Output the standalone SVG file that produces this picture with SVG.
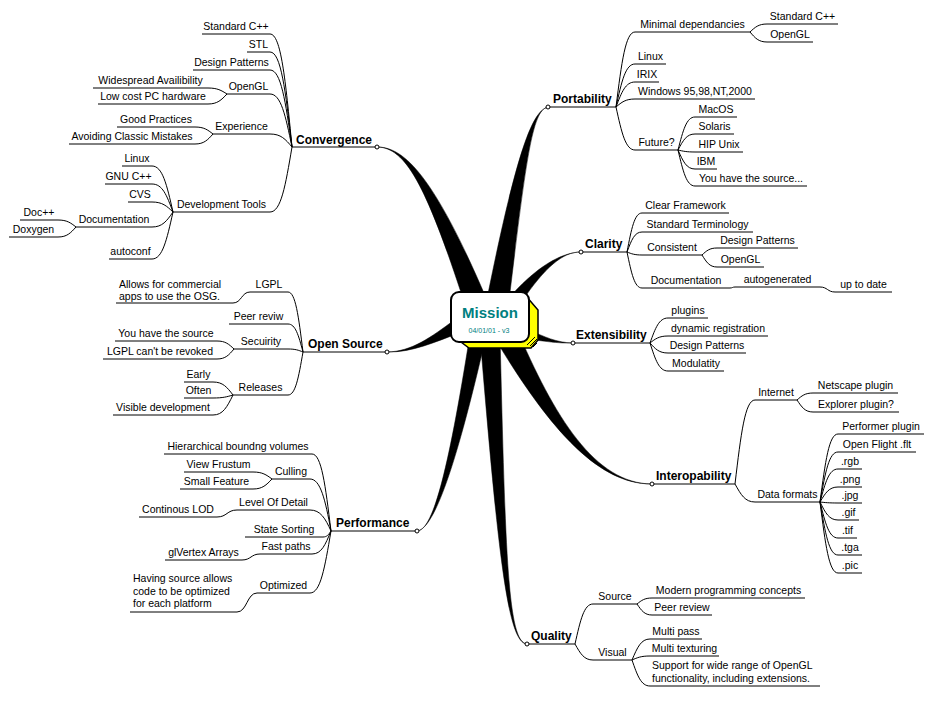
<svg xmlns="http://www.w3.org/2000/svg" width="932" height="704" viewBox="0 0 932 704">
<style>
.t{font-family:"Liberation Sans",Arial,sans-serif;font-size:10.5px;fill:#000;text-anchor:middle}
.s{font-family:"Liberation Sans",Arial,sans-serif;font-size:10.5px;fill:#000}
.m{font-family:"Liberation Sans",Arial,sans-serif;font-size:12px;font-weight:bold;fill:#000}
.u{fill:none;stroke:#000;stroke-width:1}
.c{fill:none;stroke:#000;stroke-width:1}
.w{fill:#000;stroke:#000;stroke-width:0.5}
.dot{fill:#fff;stroke:#000;stroke-width:1}
</style>
<rect width="932" height="704" fill="#fff"/>
<g id="connectors">
<!-- main wedges -->
<path class="w" d="M378,147 C405,147.5 434.7,178.2 485.3,296.1 L464.7,303.9 C425.3,181.8 405,148.5 378,147 Z"/>
<path class="w" d="M549,107 C533,107.5 526.9,150.8 508.9,301.7 L487.1,298.3 C517.1,149.2 533,108.5 549,107 Z"/>
<path class="w" d="M581,252 C563,251.5 544.4,267.8 521.7,301.7 L512.3,294.3 C539.6,264.2 563,252.5 581,252 Z"/>
<path class="w" d="M573,343 C556,342.5 545.5,337.1 527.3,329.2 L524.7,338.8 C544.5,340.9 556,343.5 573,343 Z"/>
<path class="w" d="M652,484 C595,483.5 554.45,417.7 515.7,326.5 L494.3,337.5 C545.55,422.3 595,484.5 652,484 Z"/>
<path class="w" d="M527,644 C508,642.5 505.5,559.8 500,334.5 L480,335.5 C498.5,560.2 508,643.5 527,644 Z"/>
<path class="w" d="M417,531 C432,529.5 452.9,480.6 485.9,336.5 L470.1,333.5 C447.1,479.4 432,530.5 417,531 Z"/>
<path class="w" d="M387,352 C412,352.5 433.4,342.6 461.3,332.2 L454.7,319.8 C430.6,337.4 412,351.5 387,352 Z"/>
<!-- Convergence -->
<path class="c" d="M292,147 C285.4,79.2 281,34 270,34"/>
<path class="c" d="M292,147 C285.4,90 281,52 270,52"/>
<path class="c" d="M292,147 C285.4,100.8 281,70 270,70"/>
<path class="c" d="M292,147 C285.4,115.2 281,94 270,94"/>
<path class="c" d="M292,147 C285.4,139.2 281,134 270,134"/>
<path class="c" d="M292,147 C285.4,186 281,212 270,212"/>
<path class="c" d="M227,94 C221.3,90.4 217.5,88 208,88"/>
<path class="c" d="M227,94 C221.3,100 217.5,104 208,104"/>
<path class="c" d="M213,134 C207.6,129.8 204,127 195,127"/>
<path class="c" d="M213,134 C207.6,140 204,144 195,144"/>
<path class="c" d="M173,212 C166.7,184.4 162.5,166 152,166"/>
<path class="c" d="M173,212 C166.7,195.2 162.5,184 152,184"/>
<path class="c" d="M173,212 C166.7,206 162.5,202 152,202"/>
<path class="c" d="M173,212 C166.7,221 162.5,227 152,227"/>
<path class="c" d="M173,212 C166.7,240.2 162.5,259 152,259"/>
<path class="c" d="M76,227 C70.6,222.8 67,220 58,220"/>
<path class="c" d="M76,227 C70.6,233 67,237 58,237"/>
<!-- Open Source -->
<path class="c" d="M303,352 C298.5,316 295.5,292 288,292"/>
<path class="c" d="M250,292 C241.5,292 241.5,303 233,303"/>
<path class="c" d="M303,352 C298.5,335.2 295.5,324 288,324"/>
<path class="c" d="M303,352 C298.5,350.2 295.5,349 288,349"/>
<path class="c" d="M234,349 C228.9,344.2 225.5,341 217,341"/>
<path class="c" d="M234,349 C228.9,355 225.5,359 217,359"/>
<path class="c" d="M303,352 C298.5,377.8 295.5,395 288,395"/>
<path class="c" d="M233,395 C227,387.2 223,382 213,382"/>
<path class="c" d="M233,395 C227,396.8 223,398 213,398"/>
<path class="c" d="M233,395 C227,407 223,415 213,415"/>
<!-- Performance -->
<path class="c" d="M331,531 C325.3,484.8 321.5,454 312,454"/>
<path class="c" d="M331,531 C325.3,499.8 320.5,479 310,479"/>
<path class="c" d="M272,479 C266.3,474.8 262.5,472 253,472"/>
<path class="c" d="M272,479 C266.3,485 262.5,489 253,489"/>
<path class="c" d="M331,531 C325.3,518.4 320.5,510 310,510"/>
<path class="c" d="M237,510 C227,510 227,517 217,517"/>
<path class="c" d="M331,531 C328.6,534.6 327,537 323,537"/>
<path class="c" d="M331,531 C325.3,544.8 321.5,554 312,554"/>
<path class="c" d="M260,554 C251,554 251,560 242,560"/>
<path class="c" d="M331,531 C324.7,568.2 320.5,593 310,593"/>
<path class="c" d="M257,593 C247,593 247,612 237,612"/>
<!-- Portability -->
<path class="c" d="M616,107 C621.7,62 625.5,32 635,32"/>
<path class="c" d="M750,32 C755.1,27.2 758.5,24 767,24"/>
<path class="c" d="M750,32 C755.1,38 758.5,42 767,42"/>
<path class="c" d="M616,107 C621.7,81.2 625.5,64 635,64"/>
<path class="c" d="M616,107 C621.7,92 625.5,82 635,82"/>
<path class="c" d="M616,107 C621.7,102.2 625.5,99 635,99"/>
<path class="c" d="M616,107 C621.7,132.8 625.5,150 635,150"/>
<path class="c" d="M678,150 C683.1,130.2 686.5,117 695,117"/>
<path class="c" d="M678,150 C683.1,140.4 686.5,134 695,134"/>
<path class="c" d="M678,150 C683.1,151.2 686.5,152 695,152"/>
<path class="c" d="M678,150 C683.1,161.4 686.5,169 695,169"/>
<path class="c" d="M678,150 C683.1,171.6 686.5,186 695,186"/>
<!-- Clarity -->
<path class="c" d="M627,252 C631.5,228.6 634.5,213 642,213"/>
<path class="c" d="M627,252 C631.5,240 634.5,232 642,232"/>
<path class="c" d="M627,252 C631.5,253.8 634.5,255 642,255"/>
<path class="c" d="M702,255 C706.5,250.8 709.5,248 717,248"/>
<path class="c" d="M702,255 C706.5,262.2 709.5,267 717,267"/>
<path class="c" d="M627,252 C631.5,273.6 634.5,288 642,288"/>
<path class="c" d="M730,288 C732.5,288 732.5,287 735,287"/>
<path class="c" d="M820,287 C827.5,287 827.5,292 835,292"/>
<!-- Extensibility -->
<path class="c" d="M650,343 C655.4,328 659,318 668,318"/>
<path class="c" d="M650,343 C655.4,338.8 659,336 668,336"/>
<path class="c" d="M650,343 C655.4,349 659,353 668,353"/>
<path class="c" d="M650,343 C655.4,359.8 659,371 668,371"/>
<!-- Interopability -->
<path class="c" d="M735,484 C741,433.6 745,400 755,400"/>
<path class="c" d="M797,400 C801.8,395.8 805,393 813,393"/>
<path class="c" d="M797,400 C801.8,407.2 805,412 813,412"/>
<path class="c" d="M735,484 C741,494.8 745,502 755,502"/>
<path class="c" d="M820,502 C825.4,461.2 829,434 838,434"/>
<path class="c" d="M820,502 C825.4,472 829,452 838,452"/>
<path class="c" d="M820,502 C825.4,482.2 829,469 838,469"/>
<path class="c" d="M820,502 C825.4,493 829,487 838,487"/>
<path class="c" d="M820,502 C825.4,502.6 829,503 838,503"/>
<path class="c" d="M820,502 C825.4,512.8 829,520 838,520"/>
<path class="c" d="M820,502 C825.4,523.6 829,538 838,538"/>
<path class="c" d="M820,502 C825.4,533.8 829,555 838,555"/>
<path class="c" d="M820,502 C825.4,544.6 829,573 838,573"/>
<!-- Quality -->
<path class="c" d="M575,644 C580.4,620 584,604 593,604"/>
<path class="c" d="M637,604 C641.5,600.4 644.5,598 652,598"/>
<path class="c" d="M637,604 C641.5,610.6 644.5,615 652,615"/>
<path class="c" d="M575,644 C580.4,653.6 584,660 593,660"/>
<path class="c" d="M632,660 C637.4,647.4 641,639 650,639"/>
<path class="c" d="M632,660 C637.4,657.6 641,656 650,656"/>
<path class="c" d="M632,660 C637.4,675.6 641,686 650,686"/>
</g>

<g id="mission">
<path d="M526,296 L538,310 L538,340 L531,348 L469,348 L461,342 Z" fill="#ffff00" stroke="#000" stroke-width="1.5"/>
<path d="M527,345 L535,337 M530,346 L537,339 M533,347 L537,343" stroke="#000" stroke-width="1" fill="none"/>
<rect x="451" y="292" width="78" height="50" rx="8" fill="#fff" stroke="#000" stroke-width="2"/>
<text x="490" y="318" text-anchor="middle" font-family="Liberation Sans, Arial, sans-serif" font-size="15" font-weight="bold" fill="#008080">Mission</text>
<text x="489" y="333" text-anchor="middle" font-family="Liberation Sans, Arial, sans-serif" font-size="7" fill="#008080">04/01/01 - v3</text>
</g>

<!-- Main topics -->
<g id="convergence"><path class="u" d="M292,147 H377"/><text class="m" x="296" y="144">Convergence</text><circle class="dot" cx="377" cy="147" r="2"/></g>
<g id="open-source"><path class="u" d="M303,352 H387"/><text class="m" x="308" y="348">Open Source</text><circle class="dot" cx="387" cy="352" r="2"/></g>
<g id="performance"><path class="u" d="M331,531 H417"/><text class="m" x="336" y="527">Performance</text><circle class="dot" cx="417" cy="531" r="2"/></g>
<g id="portability"><path class="u" d="M548,107 H616"/><text class="m" x="553" y="103">Portability</text><circle class="dot" cx="548" cy="107" r="2"/></g>
<g id="clarity"><path class="u" d="M581,252 H627"/><text class="m" x="585" y="248">Clarity</text><circle class="dot" cx="581" cy="252" r="2"/></g>
<g id="extensibility"><path class="u" d="M573,343 H650"/><text class="m" x="576" y="339">Extensibility</text><circle class="dot" cx="573" cy="343" r="2"/></g>
<g id="interopability"><path class="u" d="M652,484 H735"/><text class="m" x="656" y="480">Interopability</text><circle class="dot" cx="652" cy="484" r="2"/></g>
<g id="quality"><path class="u" d="M527,644 H575"/><text class="m" x="531" y="640">Quality</text><circle class="dot" cx="527" cy="644" r="2"/></g>

<!-- Convergence subtopics -->
<g id="conv-stdcpp"><path class="u" d="M202,34 H270"/><text class="t" x="236" y="30">Standard C++</text></g>
<g id="conv-stl"><path class="u" d="M247,52 H270"/><text class="t" x="258.5" y="48">STL</text></g>
<g id="conv-dp"><path class="u" d="M193,70 H270"/><text class="t" x="231.5" y="66">Design Patterns</text></g>
<g id="conv-opengl"><path class="u" d="M227,94 H270"/><text class="t" x="248.5" y="90">OpenGL</text></g>
<g id="conv-wide"><path class="u" d="M93,88 H208"/><text class="t" x="150.5" y="84">Widespread Availibility</text></g>
<g id="conv-lowcost"><path class="u" d="M98,104 H208"/><text class="t" x="153" y="100">Low cost PC hardware</text></g>
<g id="conv-exp"><path class="u" d="M213,134 H270"/><text class="t" x="241.5" y="130">Experience</text></g>
<g id="conv-good"><path class="u" d="M117,127 H195"/><text class="t" x="156" y="123">Good Practices</text></g>
<g id="conv-avoid"><path class="u" d="M69,144 H195"/><text class="t" x="132" y="140">Avoiding Classic Mistakes</text></g>
<g id="conv-devtools"><path class="u" d="M173,212 H270"/><text class="t" x="221.5" y="208">Development Tools</text></g>
<g id="conv-linux"><path class="u" d="M122,166 H152"/><text class="t" x="137" y="162">Linux</text></g>
<g id="conv-gnu"><path class="u" d="M105,184 H152"/><text class="t" x="128.5" y="180">GNU C++</text></g>
<g id="conv-cvs"><path class="u" d="M128,202 H152"/><text class="t" x="140" y="198">CVS</text></g>
<g id="conv-doc"><path class="u" d="M76,227 H152"/><text class="t" x="114" y="223">Documentation</text></g>
<g id="conv-docpp"><path class="u" d="M20,220 H58"/><text class="t" x="39" y="216">Doc++</text></g>
<g id="conv-doxygen"><path class="u" d="M9,237 H58"/><text class="t" x="33.5" y="233">Doxygen</text></g>
<g id="conv-autoconf"><path class="u" d="M109,259 H152"/><text class="t" x="130.5" y="255">autoconf</text></g>

<!-- Open Source subtopics -->
<g id="os-lgpl"><path class="u" d="M250,292 H288"/><text class="t" x="269" y="288">LGPL</text></g>
<g id="os-allows"><path class="u" d="M116,303 H233"/><text class="s" x="119" y="288">Allows for commercial</text><text class="s" x="119" y="300">apps to use the OSG.</text></g>
<g id="os-peer"><path class="u" d="M229,324 H288"/><text class="t" x="258.5" y="320">Peer reviw</text></g>
<g id="os-sec"><path class="u" d="M234,349 H288"/><text class="t" x="261" y="345">Secuirity</text></g>
<g id="os-source"><path class="u" d="M115,341 H217"/><text class="t" x="166" y="337">You have the source</text></g>
<g id="os-revoked"><path class="u" d="M103,359 H217"/><text class="t" x="160" y="355">LGPL can't be revoked</text></g>
<g id="os-releases"><path class="u" d="M233,395 H288"/><text class="t" x="260.5" y="391">Releases</text></g>
<g id="os-early"><path class="u" d="M184,382 H213"/><text class="t" x="198.5" y="378">Early</text></g>
<g id="os-often"><path class="u" d="M184,398 H213"/><text class="t" x="198.5" y="394">Often</text></g>
<g id="os-visible"><path class="u" d="M113,415 H213"/><text class="t" x="163" y="411">Visible development</text></g>

<!-- Performance subtopics -->
<g id="pf-hier"><path class="u" d="M164,454 H312"/><text class="t" x="238" y="450">Hierarchical boundng volumes</text></g>
<g id="pf-culling"><path class="u" d="M272,479 H310"/><text class="t" x="291" y="475">Culling</text></g>
<g id="pf-view"><path class="u" d="M184,472 H253"/><text class="t" x="218.5" y="468">View Frustum</text></g>
<g id="pf-small"><path class="u" d="M180,489 H253"/><text class="t" x="216.5" y="485">Small Feature</text></g>
<g id="pf-lod"><path class="u" d="M237,510 H310"/><text class="t" x="273.5" y="506">Level Of Detail</text></g>
<g id="pf-clod"><path class="u" d="M139,517 H217"/><text class="t" x="178" y="513">Continous LOD</text></g>
<g id="pf-state"><path class="u" d="M245,537 H323"/><text class="t" x="284" y="533">State Sorting</text></g>
<g id="pf-fast"><path class="u" d="M260,554 H312"/><text class="t" x="286" y="550">Fast paths</text></g>
<g id="pf-glv"><path class="u" d="M165,560 H242"/><text class="t" x="203.5" y="556">glVertex Arrays</text></g>
<g id="pf-opt"><path class="u" d="M257,593 H310"/><text class="t" x="283.5" y="589">Optimized</text></g>
<g id="pf-having"><path class="u" d="M130,612 H237"/><text class="s" x="133" y="582">Having source allows</text><text class="s" x="133" y="594.5">code to be optimized</text><text class="s" x="133" y="607">for each platform</text></g>

<!-- Portability subtopics -->
<g id="pt-min"><path class="u" d="M635,32 H750"/><text class="t" x="692.5" y="28">Minimal dependancies</text></g>
<g id="pt-stdcpp"><path class="u" d="M767,24 H838"/><text class="t" x="802.5" y="20">Standard C++</text></g>
<g id="pt-opengl"><path class="u" d="M767,42 H813"/><text class="t" x="790" y="38">OpenGL</text></g>
<g id="pt-linux"><path class="u" d="M635,64 H666"/><text class="t" x="650.5" y="60">Linux</text></g>
<g id="pt-irix"><path class="u" d="M635,82 H659"/><text class="t" x="647" y="78">IRIX</text></g>
<g id="pt-win"><path class="u" d="M635,99 H755"/><text class="t" x="695" y="95">Windows 95,98,NT,2000</text></g>
<g id="pt-future"><path class="u" d="M635,150 H678"/><text class="t" x="656.5" y="146">Future?</text></g>
<g id="pt-macos"><path class="u" d="M695,117 H737"/><text class="t" x="716" y="113">MacOS</text></g>
<g id="pt-solaris"><path class="u" d="M695,134 H734"/><text class="t" x="714.5" y="130">Solaris</text></g>
<g id="pt-hip"><path class="u" d="M695,152 H743"/><text class="t" x="719" y="148">HIP Unix</text></g>
<g id="pt-ibm"><path class="u" d="M695,169 H717"/><text class="t" x="706" y="165">IBM</text></g>
<g id="pt-yhs"><path class="u" d="M695,186 H807"/><text class="t" x="751" y="182">You have the source...</text></g>

<!-- Clarity subtopics -->
<g id="cl-clear"><path class="u" d="M642,213 H729"/><text class="t" x="685.5" y="209">Clear Framework</text></g>
<g id="cl-term"><path class="u" d="M642,232 H753"/><text class="t" x="697.5" y="228">Standard Terminology</text></g>
<g id="cl-cons"><path class="u" d="M642,255 H702"/><text class="t" x="672" y="251">Consistent</text></g>
<g id="cl-dp"><path class="u" d="M717,248 H798"/><text class="t" x="757.5" y="244">Design Patterns</text></g>
<g id="cl-opengl"><path class="u" d="M717,267 H764"/><text class="t" x="740.5" y="263">OpenGL</text></g>
<g id="cl-doc"><path class="u" d="M642,288 H730"/><text class="t" x="686" y="284">Documentation</text></g>
<g id="cl-auto"><path class="u" d="M735,287 H820"/><text class="t" x="777.5" y="283">autogenerated</text></g>
<g id="cl-uptodate"><path class="u" d="M835,292 H892"/><text class="t" x="863.5" y="288">up to date</text></g>

<!-- Extensibility subtopics -->
<g id="ex-plugins"><path class="u" d="M668,318 H708"/><text class="t" x="688" y="314">plugins</text></g>
<g id="ex-dyn"><path class="u" d="M668,336 H768"/><text class="t" x="718" y="332">dynamic registration</text></g>
<g id="ex-dp"><path class="u" d="M668,353 H746"/><text class="t" x="707" y="349">Design Patterns</text></g>
<g id="ex-mod"><path class="u" d="M668,371 H724"/><text class="t" x="696" y="367">Modulatity</text></g>

<!-- Interopability subtopics -->
<g id="io-internet"><path class="u" d="M755,400 H797"/><text class="t" x="776" y="396">Internet</text></g>
<g id="io-netscape"><path class="u" d="M813,393 H898"/><text class="t" x="855.5" y="389">Netscape plugin</text></g>
<g id="io-explorer"><path class="u" d="M813,412 H899"/><text class="t" x="856" y="408">Explorer plugin?</text></g>
<g id="io-data"><path class="u" d="M755,502 H820"/><text class="t" x="787.5" y="498">Data formats</text></g>
<g id="io-performer"><path class="u" d="M838,434 H924"/><text class="t" x="881" y="430">Performer plugin</text></g>
<g id="io-flt"><path class="u" d="M838,452 H916"/><text class="t" x="877" y="448">Open Flight .flt</text></g>
<g id="io-rgb"><path class="u" d="M838,469 H862"/><text class="t" x="850" y="465">.rgb</text></g>
<g id="io-png"><path class="u" d="M838,487 H862"/><text class="t" x="850" y="483">.png</text></g>
<g id="io-jpg"><path class="u" d="M838,503 H862"/><text class="t" x="850" y="499">.jpg</text></g>
<g id="io-gif"><path class="u" d="M838,520 H859"/><text class="t" x="848.5" y="516">.gif</text></g>
<g id="io-tif"><path class="u" d="M838,538 H857"/><text class="t" x="847.5" y="534">.tif</text></g>
<g id="io-tga"><path class="u" d="M838,555 H862"/><text class="t" x="850" y="551">.tga</text></g>
<g id="io-pic"><path class="u" d="M838,573 H862"/><text class="t" x="850" y="569">.pic</text></g>

<!-- Quality subtopics -->
<g id="q-source"><path class="u" d="M593,604 H637"/><text class="t" x="615" y="600">Source</text></g>
<g id="q-modern"><path class="u" d="M652,598 H805"/><text class="t" x="728.5" y="594">Modern programming concepts</text></g>
<g id="q-peer"><path class="u" d="M652,615 H712"/><text class="t" x="682" y="611">Peer review</text></g>
<g id="q-visual"><path class="u" d="M593,660 H632"/><text class="t" x="612.5" y="656">Visual</text></g>
<g id="q-multipass"><path class="u" d="M650,639 H702"/><text class="t" x="676" y="635">Multi pass</text></g>
<g id="q-multitex"><path class="u" d="M650,656 H719"/><text class="t" x="684.5" y="652">Multi texturing</text></g>
<g id="q-support"><path class="u" d="M650,686 H820"/><text class="s" x="652" y="669">Support for wide range of OpenGL</text><text class="s" x="652" y="682">functionality, including extensions.</text></g>
</svg>
